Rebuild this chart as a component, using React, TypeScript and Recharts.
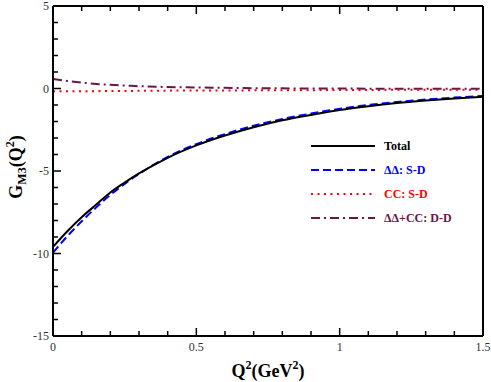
import React from "react"
import { LineChart, Line, XAxis, YAxis, Legend } from "recharts"

const Q2 = [0, 0.05, 0.1, 0.15, 0.2, 0.25, 0.3, 0.4, 0.5, 0.6, 0.7, 0.8, 0.9, 1.0, 1.1, 1.2, 1.3, 1.4, 1.5]
const TOTAL = [-9.6, -8.65, -7.8, -7.05, -6.3, -5.7, -5.15, -4.2, -3.45, -2.85, -2.35, -1.93, -1.6, -1.3, -1.07, -0.88, -0.73, -0.6, -0.5]
const DD_SD = [-9.95, -8.95, -8.05, -7.22, -6.45, -5.78, -5.18, -4.15, -3.37, -2.76, -2.26, -1.85, -1.52, -1.23, -1.0, -0.82, -0.67, -0.55, -0.45]
const CC_SD = [-0.17, -0.17, -0.16, -0.16, -0.15, -0.15, -0.14, -0.13, -0.12, -0.12, -0.11, -0.1, -0.1, -0.09, -0.09, -0.08, -0.08, -0.07, -0.07]
const DDCC_DD = [0.58, 0.46, 0.36, 0.28, 0.22, 0.18, 0.14, 0.09, 0.06, 0.04, 0.02, 0.01, 0, 0, -0.01, -0.01, -0.02, -0.02, -0.02]

const X_TICKS = [0, 0.1, 0.2, 0.3, 0.4, 0.5, 0.6, 0.7, 0.8, 0.9, 1, 1.1, 1.2, 1.3, 1.4, 1.5]
const Y_TICKS = [-15, -14, -13, -12, -11, -10, -9, -8, -7, -6, -5, -4, -3, -2, -1, 0, 1, 2, 3, 4, 5]

const SERIES = [
  { key: "total", name: "Total", color: "#000000", dash: undefined, data: TOTAL },
  { key: "dd", name: "ΔΔ: S-D", color: "#0000ff", dash: "8 4", data: DD_SD },
  { key: "cc", name: "CC: S-D", color: "#ff0000", dash: "2 4.5", data: CC_SD },
  { key: "ddcc", name: "ΔΔ+CC: D-D", color: "#6e1446", dash: "9 4 2 4", data: DDCC_DD },
]

const data = Q2.map((q, i) => {
  const row: Record<string, number> = { q }
  SERIES.forEach((s) => (row[s.key] = s.data[i]))
  return row
})

const FONT = "Liberation Serif, Times New Roman, serif"

function YTick(props: any) {
  const { x, y, payload, side } = props
  const v = payload.value
  const major = v % 5 === 0
  const len = major ? 8 : 5
  const dir = side === "right" ? -1 : 1
  return (
    <g>
      <line x1={x} y1={y} x2={x + dir * len} y2={y} stroke="#000" strokeWidth={1.5} />
      {side === "left" && major && (
        <text x={x - 4} y={y} dy={4} textAnchor="end" fontSize={12} style={{ fontFamily: FONT }} fill="#333">
          {v}
        </text>
      )}
    </g>
  )
}

function XTick(props: any) {
  const { x, y, payload, side } = props
  const v = payload.value
  const major = Math.abs(v * 2 - Math.round(v * 2)) < 1e-6
  const len = major ? 8 : 5
  const dir = side === "top" ? 1 : -1
  return (
    <g>
      <line x1={x} y1={y} x2={x} y2={y + dir * len} stroke="#000" strokeWidth={1.5} />
      {side === "bottom" && major && (
        <text x={x} y={y + 15} textAnchor="middle" fontSize={12} style={{ fontFamily: FONT }} fill="#333">
          {v}
        </text>
      )}
    </g>
  )
}

function LegendContent() {
  return (
    <div style={{ fontFamily: FONT, fontWeight: "bold", fontSize: 12 }}>
      {SERIES.map((s) => (
        <div key={s.key} style={{ display: "flex", alignItems: "center", height: 24 }}>
          <svg width={66} height={6} style={{ marginRight: 7 }}>
            <line x1={0} y1={3} x2={64} y2={3} stroke={s.color} strokeWidth={2} strokeDasharray={s.dash} />
          </svg>
          <span style={{ color: s.color }}>{s.name}</span>
        </div>
      ))}
    </div>
  )
}

export default function App() {
  return (
    <div style={{ position: "absolute", left: 0, top: 0, background: "#fff" }}>
      <LineChart width={491} height={382} data={data} margin={{ top: 0, right: 0, left: 0, bottom: 0 }}>
        <XAxis
          xAxisId="b"
          dataKey="q"
          type="number"
          domain={[0, 1.5]}
          ticks={X_TICKS}
          interval={0}
          height={46}
          tickSize={0}
          tickMargin={0}
          tickLine={false}
          axisLine={{ stroke: "#000", strokeWidth: 2 }}
          tick={<XTick side="bottom" />}
          label={{
            content: (p: any) => {
              const vb = p.viewBox
              const cx = vb.x + vb.width / 2
              return (
                <text x={cx} y={vb.y + 41} textAnchor="middle" style={{ fontFamily: FONT }} fontWeight="bold" fontSize={18} fill="#000">
                  <tspan>Q</tspan>
                  <tspan fontSize={12} dy={-8}>2</tspan>
                  <tspan dy={8}>(GeV</tspan>
                  <tspan fontSize={12} dy={-8}>2</tspan>
                  <tspan dy={8}>)</tspan>
                </text>
              )
            },
          }}
        />
        <XAxis
          xAxisId="t"
          orientation="top"
          dataKey="q"
          type="number"
          domain={[0, 1.5]}
          ticks={X_TICKS}
          interval={0}
          height={6}
          tickSize={0}
          tickMargin={0}
          tickLine={false}
          axisLine={{ stroke: "#000", strokeWidth: 2 }}
          tick={<XTick side="top" />}
        />
        <YAxis
          yAxisId="l"
          type="number"
          domain={[-15, 5]}
          ticks={Y_TICKS}
          interval={0}
          width={53}
          tickSize={0}
          tickMargin={0}
          tickLine={false}
          axisLine={{ stroke: "#000", strokeWidth: 2 }}
          tick={<YTick side="left" />}
          label={{
            content: (p: any) => {
              const vb = p.viewBox
              const cx = vb.x + 22
              const cy = vb.y + vb.height / 2 - 4
              return (
                <text
                  x={cx}
                  y={cy}
                  transform={`rotate(-90, ${cx}, ${cy})`}
                  textAnchor="middle"
                  style={{ fontFamily: FONT }}
                  fontWeight="bold"
                  fontSize={18}
                  fill="#000"
                >
                  <tspan>G</tspan>
                  <tspan fontSize={12} dy={4}>M3</tspan>
                  <tspan dy={-4}>(Q</tspan>
                  <tspan fontSize={12} dy={-8}>2</tspan>
                  <tspan dy={8}>)</tspan>
                </text>
              )
            },
          }}
        />
        <YAxis
          yAxisId="r"
          orientation="right"
          type="number"
          domain={[-15, 5]}
          ticks={Y_TICKS}
          interval={0}
          width={8}
          tickSize={0}
          tickMargin={0}
          tickLine={false}
          axisLine={{ stroke: "#000", strokeWidth: 2 }}
          tick={<YTick side="right" />}
        />
        <Legend
          layout="vertical"
          align="center"
          verticalAlign="middle"
          content={<LegendContent />}
          wrapperStyle={{ position: "absolute", left: 311, top: 134, width: "auto", height: "auto" }}
        />
        {SERIES.slice()
          .reverse()
          .map((s) => (
            <Line
              key={s.key}
              xAxisId="b"
              yAxisId="l"
              type="monotone"
              dataKey={s.key}
              name={s.name}
              stroke={s.color}
              strokeWidth={2}
              strokeDasharray={s.dash}
              dot={false}
              isAnimationActive={false}
            />
          ))}
      </LineChart>
    </div>
  )
}
